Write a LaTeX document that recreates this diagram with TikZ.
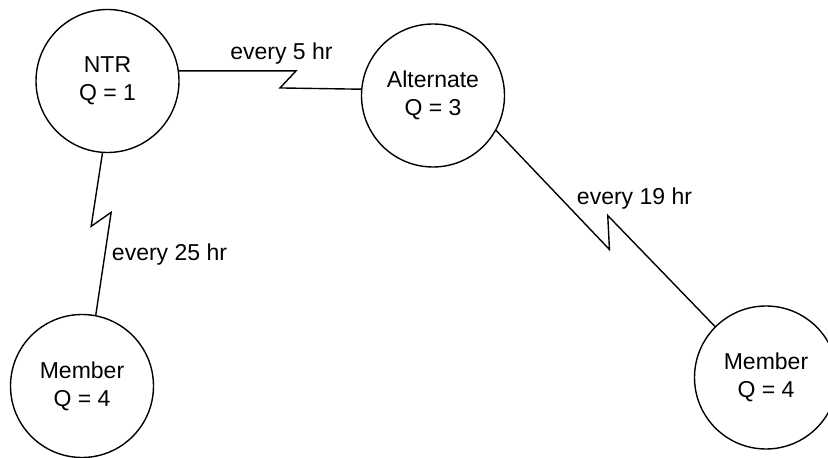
\documentclass[tikz,border=0pt]{standalone}
\usepackage{fontspec}
\setmainfont{Liberation Sans}
\usepackage{tikz}

\begin{document}
\begin{tikzpicture}[x=1pt,y=1pt,
  site/.style={circle,draw=drawColor,line width=1.4pt,minimum size=143pt,inner sep=0pt,align=center,font=\fontsize{23}{28}\selectfont},
  link/.style={draw=drawColor,line width=1.4pt,line join=miter},
  rate/.style={text=drawColor,anchor=base,inner sep=0pt,outer sep=0pt,font=\fontsize{23}{28}\selectfont}]
\definecolor{fillColor}{RGB}{255,255,255}
\definecolor{drawColor}{RGB}{0,0,0}
\path[use as bounding box,fill=fillColor] (0,0) rectangle (828,458);
\begin{scope}
\path[clip] (0,0) rectangle (828,458);

\node[site] (ntr) at (107.5,377.0) {NTR\\Q = 1};

\node[site] (alt) at (433.0,362.5) {Alternate\\Q = 3};

\node[site] (mem1) at ( 82.0, 72.0) {Member\\Q = 4};

\node[site] (mem2) at (766.0, 80.5) {Member\\Q = 4};

\path[link] (ntr.8) -- ++(117,0) -- ++(-16,-17) -- (alt.175);

\path[link] (ntr.266) -- ++(-11.3,-73.3) -- ++(20,14) -- (mem1.79);

\path[link] (alt.331) -- ++(113.3,-119) -- ++(-1.7,34) -- (mem2.135);

\node[rate] (r5) at (281.5,398.0) {every 5 hr};

\node[rate] (r25) at (169.5,197.3) {every 25 hr};

\node[rate] (r19) at (634.5,253.0) {every 19 hr};
\end{scope}
\end{tikzpicture}
\end{document}
